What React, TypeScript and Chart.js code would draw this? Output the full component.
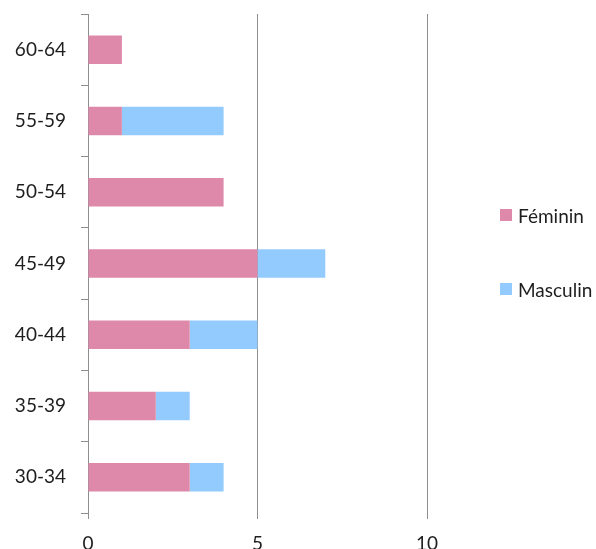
import React, { useEffect, useRef } from "react";
import { Chart, registerables } from "chart.js";

Chart.register(...registerables);

const categories = ["60-64", "55-59", "50-54", "45-49", "40-44", "35-39", "30-34"];
const feminin = [1, 1, 4, 5, 3, 2, 3];
const masculin = [0, 3, 0, 2, 2, 1, 1];
const seriesNames = ["Féminin", "Masculin"];
const seriesColors = ["#DE89AA", "#93CBFE"];
const xTicks = [0, 5, 10];

const FONT = "Lato, 'Open Sans', sans-serif";

export default function App() {
  const ref = useRef<HTMLCanvasElement | null>(null);
  useEffect(() => {
    if (!ref.current) return;
    const chart = new Chart(ref.current, {
      type: "bar",
      data: {
        labels: categories,
        datasets: [
          {
            label: seriesNames[0],
            data: feminin,
            backgroundColor: seriesColors[0],
            borderWidth: 0,
            barPercentage: 0.4,
            categoryPercentage: 1,
          },
          {
            label: seriesNames[1],
            data: masculin,
            backgroundColor: seriesColors[1],
            borderWidth: 0,
            barPercentage: 0.4,
            categoryPercentage: 1,
          },
        ],
      },
      options: {
        indexAxis: "y",
        animation: false,
        responsive: false,
        maintainAspectRatio: false,
        devicePixelRatio: 1,
        layout: { padding: { left: 0, right: 169, top: 14, bottom: 0 } },
        plugins: {
          legend: { display: false },
          tooltip: { enabled: false },
        },
        scales: {
          x: {
            stacked: true,
            min: 0,
            max: 10,
            afterBuildTicks: (s: any) => {
              s.ticks = xTicks.map((v) => ({ value: v }));
            },
            afterFit: (s: any) => {
              s.height = 36;
              s.paddingLeft = 0;
              s.paddingRight = 0;
            },
            grid: {
              color: "#8E8E8E",
              lineWidth: 1,
              drawTicks: true,
              tickLength: 6,
              tickColor: "#8E8E8E",
            },
            border: { display: false },
            ticks: {
              padding: 13,
              color: "#1e1e1e",
              font: { family: FONT, size: 19 },
            },
          },
          y: {
            stacked: true,
            afterFit: (s: any) => {
              s.width = 88;
              s.paddingTop = 0;
              s.paddingBottom = 0;
            },
            grid: {
              offset: true,
              drawOnChartArea: false,
              drawTicks: true,
              tickLength: 7,
              color: "#8E8E8E",
              tickColor: "#8E8E8E",
            },
            border: { display: true, color: "#8E8E8E", width: 1 },
            ticks: {
              padding: 15,
              color: "#1e1e1e",
              font: { family: FONT, size: 19 },
            },
          },
        },
      },
    });
    return () => chart.destroy();
  }, []);

  const legendItem = (i: number, top: number) => (
    <div
      key={i}
      style={{
        position: "absolute",
        left: 500,
        top,
        height: 24,
        display: "flex",
        alignItems: "center",
        fontFamily: FONT,
        fontSize: 19,
        color: "#1e1e1e",
        whiteSpace: "nowrap",
      }}
    >
      <span
        style={{
          display: "inline-block",
          width: 12,
          height: 12,
          background: seriesColors[i],
          marginRight: 6,
        }}
      />
      <span>{seriesNames[i]}</span>
    </div>
  );

  return (
    <div
      style={{
        position: "fixed",
        left: 0,
        top: 0,
        width: 596,
        height: 549,
        overflow: "hidden",
        background: "#fff",
      }}
    >
      <canvas ref={ref} width={596} height={549} style={{ display: "block", width: 596, height: 549 }} />
      {legendItem(0, 203)}
      {legendItem(1, 277)}
    </div>
  );
}
